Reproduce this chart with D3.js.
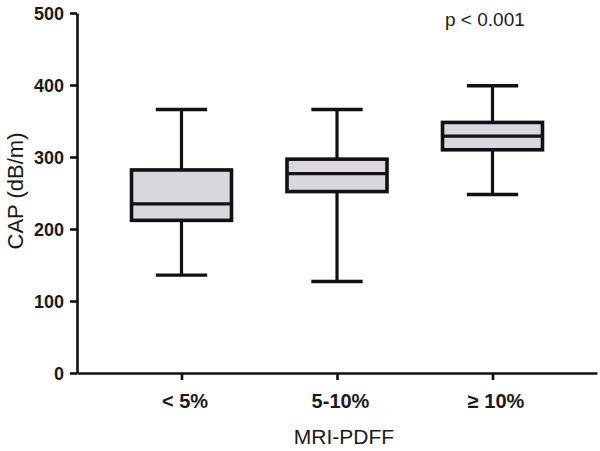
<!DOCTYPE html>
<html>
<head>
<meta charset="utf-8">
<title>CAP by MRI-PDFF</title>
<script src="https://cdn.jsdelivr.net/npm/d3@7"></script>
<style>
  body { margin: 0; background: #fff; }
  svg { display: block; font-family: "Liberation Sans", Arial, sans-serif; }
</style>
</head>
<body>
<script>
// groups and box summaries
var groups = ["< 5%", "5-10%", "\u2265 10%"];
var whiskerLow = [136, 127, 248];
var q1 = [212, 252, 310];
var median = [235, 277, 329];
var q3 = [282, 297, 348];
var whiskerHigh = [366, 366, 399];
var yTicks = [0, 100, 200, 300, 400, 500];

var width = 600, height = 451;
var svg = d3.select("body").append("svg")
    .attr("width", width)
    .attr("height", height);

// plot area
var x0 = 77, x1 = 597, yTop = 13, yBottom = 373;

var x = d3.scalePoint()
    .domain(groups)
    .range([x0, x1])
    .padding(0.672);

var y = d3.scaleLinear()
    .domain([0, 500])
    .range([yBottom, yTop]);

var step = x.step();
var boxW = step * 0.643;
var capW = step * 0.33;
var ink = "#111";

// y axis
var yAxis = svg.append("g")
    .attr("transform", "translate(" + x0 + ",0)")
    .call(d3.axisLeft(y).tickValues(yTicks).tickSize(7).tickPadding(6).tickSizeOuter(0));
yAxis.select(".domain").attr("stroke", ink).attr("stroke-width", 2.6);
yAxis.selectAll(".tick line").attr("stroke", ink).attr("stroke-width", 2.6);
yAxis.selectAll(".tick text")
    .attr("fill", "#1a1a1a")
    .style("font-size", "18px")
    .style("font-weight", "bold")
    .attr("dy", "0.36em");

// x axis
var xAxis = svg.append("g")
    .attr("transform", "translate(0," + yBottom + ")")
    .call(d3.axisBottom(x).tickSize(7).tickPadding(14).tickSizeOuter(0));
xAxis.select(".domain").attr("stroke", ink).attr("stroke-width", 2.6);
xAxis.selectAll(".tick line").attr("stroke", ink).attr("stroke-width", 2.6);
xAxis.selectAll(".tick text")
    .attr("fill", "#1a1a1a")
    .attr("dx", 3)
    .style("font-size", "20px")
    .style("font-weight", "bold");

// boxes
var data = groups.map(function(g, i) {
  return { g: g, lo: whiskerLow[i], q1: q1[i], med: median[i], q3: q3[i], hi: whiskerHigh[i] };
});

var box = svg.selectAll(".box")
    .data(data)
    .enter().append("g")
    .attr("class", "box")
    .attr("transform", function(d) { return "translate(" + x(d.g) + ",0)"; });

// whisker stems
box.append("line")
    .attr("x1", 0).attr("x2", 0)
    .attr("y1", function(d) { return y(d.hi); })
    .attr("y2", function(d) { return y(d.q3); })
    .attr("stroke", ink).attr("stroke-width", 3.2);
box.append("line")
    .attr("x1", 0).attr("x2", 0)
    .attr("y1", function(d) { return y(d.q1); })
    .attr("y2", function(d) { return y(d.lo); })
    .attr("stroke", ink).attr("stroke-width", 3.2);

// caps
box.append("line")
    .attr("x1", -capW / 2).attr("x2", capW / 2)
    .attr("y1", function(d) { return y(d.hi); })
    .attr("y2", function(d) { return y(d.hi); })
    .attr("stroke", ink).attr("stroke-width", 3.4);
box.append("line")
    .attr("x1", -capW / 2).attr("x2", capW / 2)
    .attr("y1", function(d) { return y(d.lo); })
    .attr("y2", function(d) { return y(d.lo); })
    .attr("stroke", ink).attr("stroke-width", 3.4);

// box body
box.append("rect")
    .attr("x", -boxW / 2)
    .attr("width", boxW)
    .attr("y", function(d) { return y(d.q3); })
    .attr("height", function(d) { return y(d.q1) - y(d.q3); })
    .attr("fill", "#d9d7dd")
    .attr("stroke", ink)
    .attr("stroke-width", 3.6);

// median
box.append("line")
    .attr("x1", -boxW / 2).attr("x2", boxW / 2)
    .attr("y1", function(d) { return y(d.med); })
    .attr("y2", function(d) { return y(d.med); })
    .attr("stroke", ink).attr("stroke-width", 3.2);

// axis titles
svg.append("text")
    .attr("x", 344)
    .attr("y", 444)
    .attr("text-anchor", "middle")
    .attr("fill", "#1a1a1a")
    .style("font-size", "21px")
    .text("MRI-PDFF");

svg.append("text")
    .attr("transform", "translate(23,191) rotate(-90)")
    .attr("text-anchor", "middle")
    .attr("fill", "#1a1a1a")
    .style("font-size", "22px")
    .text("CAP (dB/m)");

// p value
svg.append("text")
    .attr("x", 445)
    .attr("y", 26)
    .attr("fill", "#1a1a1a")
    .style("font-size", "19px")
    .text("p < 0.001");
</script>
</body>
</html>
